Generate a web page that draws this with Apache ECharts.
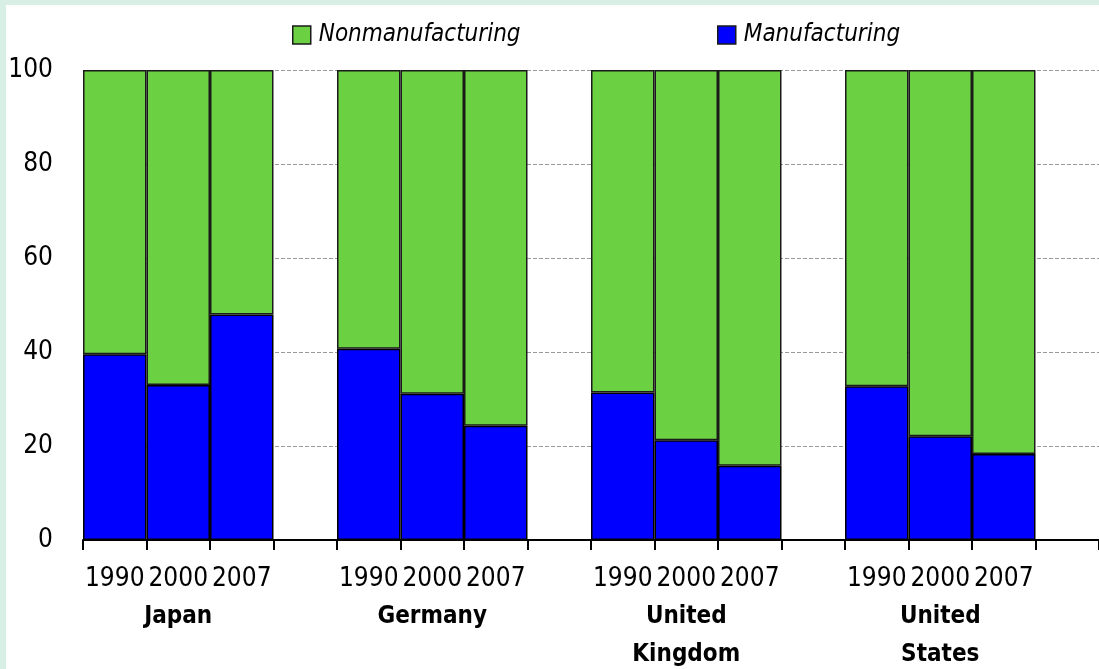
<!DOCTYPE html>
<html>
<head>
<meta charset="utf-8">
<script src="https://cdn.jsdelivr.net/npm/echarts@6/dist/echarts.min.js"></script>
<style>
  html, body { margin: 0; padding: 0; background: #d8efe6; width: 1099px; height: 669px; overflow: hidden; }
  #chart { position: absolute; left: 6px; top: 5px; width: 1093px; height: 664px; background: #ffffff; }
</style>
</head>
<body>
<div id="chart"></div>
<script>
// ---- data ----
const countries = ['Japan', 'Germany', 'United\nKingdom', 'United\nStates'];
const years = ['1990', '2000', '2007'];
const japanMfg   = [39.5, 33.0, 48.0];
const germanyMfg = [40.7, 31.1, 24.3];
const ukMfg      = [31.4, 21.2, 15.8];
const usMfg      = [32.7, 22.1, 18.3];
const japanNon   = [60.5, 67.0, 52.0];
const germanyNon = [59.3, 68.9, 75.7];
const ukNon      = [68.6, 78.8, 84.2];
const usNon      = [67.3, 77.9, 81.7];
const yTicks = [0, 20, 40, 60, 80, 100];

const mfgByCountry = [japanMfg, germanyMfg, ukMfg, usMfg];
const nonByCountry = [japanNon, germanyNon, ukNon, usNon];

// build categories (3 years + 1 empty gap per country)
const categories = [];
const labels = {};
const mfgData = [];
const nonData = [];
countries.forEach((c, ci) => {
  years.forEach((y, yi) => {
    const key = c + '|' + y;
    categories.push(key);
    if (yi === 1) {
      labels[key] = y + '\n' + c.split('\n').map(s => '{c|' + s + '}').join('\n');
    } else {
      labels[key] = y;
    }
    mfgData.push(mfgByCountry[ci][yi]);
    nonData.push(nonByCountry[ci][yi]);
  });
  const gapKey = 'gap' + ci;
  categories.push(gapKey);
  labels[gapKey] = '';
  mfgData.push('-');
  nonData.push('-');
});

const FONT = "'Liberation Sans Narrow', 'DejaVu Sans Condensed', sans-serif";

const chart = echarts.init(document.getElementById('chart'), null, { renderer: 'canvas' });
chart.setOption({
  animation: false,
  backgroundColor: '#ffffff',
  textStyle: { fontFamily: FONT, color: '#000' },
  legend: [
    {
      data: ['Nonmanufacturing'],
      left: 281, top: 13,
      icon: 'rect', itemWidth: 18, itemHeight: 18, itemGap: 6,
      textStyle: { fontFamily: FONT, fontSize: 24, lineHeight: 24, fontStyle: 'italic', color: '#000', padding: [0, 0, 0, 3] },
      itemStyle: { borderColor: '#1a1a1a', borderWidth: 1.5 }
    },
    {
      data: ['Manufacturing'],
      left: 706, top: 13,
      icon: 'rect', itemWidth: 18, itemHeight: 18, itemGap: 6,
      textStyle: { fontFamily: FONT, fontSize: 24, lineHeight: 24, fontStyle: 'italic', color: '#000', padding: [0, 0, 0, 3] },
      itemStyle: { borderColor: '#1a1a1a', borderWidth: 1.5 }
    }
  ],
  grid: { left: 77, right: 0, top: 65, bottom: 129, containLabel: false, outerBoundsMode: 'none' },
  xAxis: {
    type: 'category',
    data: categories,
    boundaryGap: true,
    axisLine: { show: true, lineStyle: { color: '#000', width: 2 } },
    axisTick: { show: true, length: 10, interval: 0, lineStyle: { color: '#000', width: 2 } },
    axisLabel: {
      interval: 0,
      margin: 20,
      fontFamily: FONT,
      fontSize: 26,
      lineHeight: 38,
      color: '#000',
      hideOverlap: false,
      formatter: (v) => labels[v],
      rich: {
        c: { fontFamily: FONT, fontSize: 24, fontWeight: 'bold', lineHeight: 38, color: '#000' }
      }
    },
    splitLine: { show: false }
  },
  yAxis: {
    type: 'value',
    min: yTicks[0],
    max: yTicks[yTicks.length - 1],
    interval: 20,
    axisLine: { show: false },
    axisTick: { show: false },
    axisLabel: { fontFamily: FONT, fontSize: 26, color: '#000', margin: 30 },
    splitLine: { show: true, lineStyle: { color: '#9a9a9a', width: 1, type: [4, 2] } }
  },
  series: [
    {
      name: 'Manufacturing',
      type: 'bar',
      stack: 'total',
      barCategoryGap: '0%',
      data: mfgData,
      itemStyle: { color: '#0000ff', borderColor: '#000', borderWidth: 1.5 }
    },
    {
      name: 'Nonmanufacturing',
      type: 'bar',
      stack: 'total',
      barCategoryGap: '0%',
      data: nonData,
      itemStyle: { color: '#6cd043', borderColor: '#1a1a1a', borderWidth: 1.5 }
    }
  ]
});
</script>
</body>
</html>
